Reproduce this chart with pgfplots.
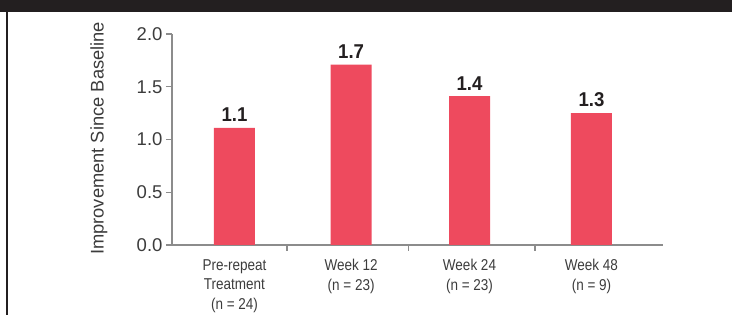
\documentclass[border=0pt]{standalone}
\usepackage{pgfplots}
\pgfplotsset{compat=1.18}
\usepackage{fontspec}
\setmainfont{Liberation Sans}
\newfontfamily\catfont{Liberation Sans}[FakeStretch=0.86]
\newfontfamily\valfont{Liberation Sans}[FakeStretch=0.93]
\definecolor{barred}{HTML}{EE4A5E}
\definecolor{ink}{HTML}{231F20}
\definecolor{axisgray}{HTML}{8C8C8C}
\definecolor{ticktext}{HTML}{3C3C3C}
\begin{document}
\begin{tikzpicture}[x=1pt,y=1pt]
\useasboundingbox (0,0) rectangle (732,315);
\fill[ink] (0,303) rectangle (732,315);
\draw[ink, line width=1.2pt] (7,0) -- (7,303);
\begin{axis}[
 at={(172pt,70pt)}, anchor=south west, scale only axis, width=491pt, height=211pt,
 xmin=-0.525, xmax=3.601, ymin=0, ymax=2,
 axis x line=bottom, axis y line=left, axis line style={-, axisgray, line width=1.3pt},
 ytick={0,0.5,1,1.5,2},
 xtick={0.441,1.466,2.525}, xticklabels={},
 tick align=outside, major tick length=6pt, tick style={axisgray, line width=1.1pt},
 extra x ticks={0,0.98,1.975,3},
 extra x tick labels={{Pre-repeat\\Treatment\\(n = 24)},{Week 12\\(n = 23)},{Week 24\\(n = 23)},{Week 48\\(n = 9)}},
 extra x tick style={major tick length=0pt, xticklabel style={align=center, font=\catfont\fontsize{15.7}{19.5}\selectfont, text=ticktext, yshift=-11pt}},
 yticklabel style={font=\fontsize{18.5}{20}\selectfont, text=ticktext, /pgf/number format/.cd, fixed, fixed zerofill, precision=1, assume math mode=true},
 ylabel={Improvement Since Baseline},
 every axis y label/.style={at={(axis description cs:-0.149,0.505)}, rotate=90, anchor=center, font=\fontsize{18.3}{20}\selectfont, text=ticktext},
 clip=false,
]
\addplot[ybar, bar width=41pt, fill=barred, draw=none, nodes near coords, point meta=explicit symbolic, every node near coord/.style={font=\valfont\bfseries\fontsize{20}{22}\selectfont, text=ink, anchor=south, inner sep=0pt, yshift=6pt}] table[meta=label] {
x y label
0 1.11 1.1
0.98 1.71 1.7
1.975 1.41 1.4
3 1.25 1.3
};
\end{axis}
\end{tikzpicture}
\end{document}
